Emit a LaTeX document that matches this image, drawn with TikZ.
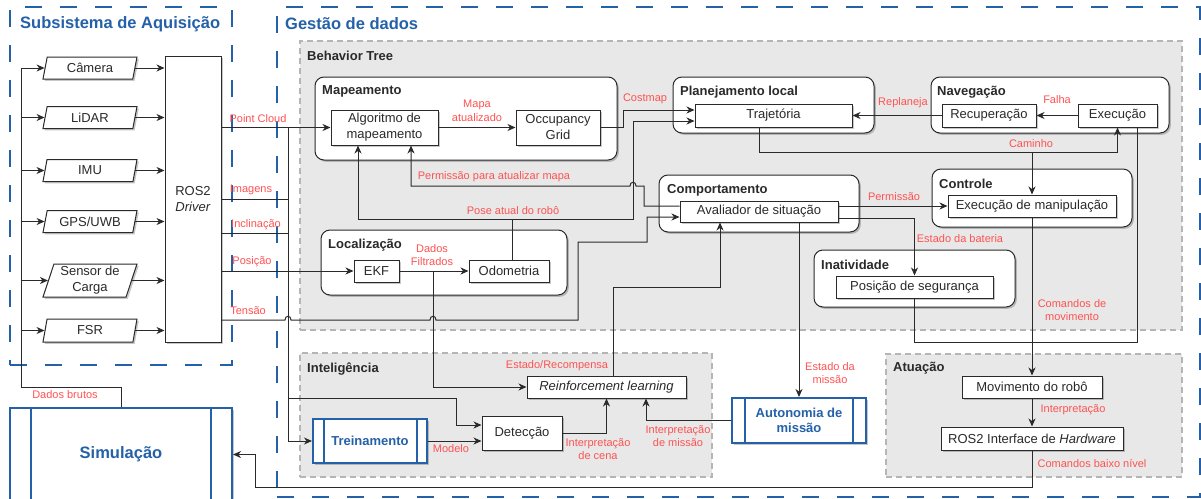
\documentclass[tikz,border=0pt]{standalone}
\usepackage{fontspec}
\setmainfont{Liberation Sans}
\usetikzlibrary{arrows.meta,shapes.geometric,shadows,calc}

\definecolor{lblred}{HTML}{FF5252}
\definecolor{frameblue}{HTML}{2461A8}
\definecolor{areagray}{HTML}{E8E8E8}
\definecolor{areaedge}{HTML}{B5B5B5}
\definecolor{ink}{HTML}{2A2A2A}

\newcommand\dgboxfont{\fontsize{13}{16}\selectfont}
\newcommand\dglblfont{\fontsize{11}{13.5}\selectfont}
\newcommand\dgttlfont{\fontsize{13}{15}\selectfont\bfseries}
\newcommand\dgbigfont{\fontsize{16.5}{19}\selectfont\bfseries}

\tikzset{
  shadowed/.style={drop shadow={shadow xshift=1.8pt,shadow yshift=-1.8pt,opacity=.22,fill=black}},
  box/.style={draw=ink,line width=1pt,fill=white,inner sep=1pt,align=center,
    font=\dgboxfont,text=ink,shadowed},
  sensor/.style={box,trapezium,trapezium left angle=70,trapezium right angle=110,
    trapezium stretches body,minimum width=94pt},
  group/.style={draw=ink,line width=1pt,fill=white,rounded corners=9pt,shadowed},
  area/.style={fill=areagray,draw=areaedge,line width=1.7pt,dash pattern=on 6pt off 4pt},
  frame/.style={draw=frameblue,line width=2.4pt,dash pattern=on 17pt off 18pt},
  proc/.style={draw=frameblue,line width=2pt,fill=white,align=center,text=frameblue,shadowed},
  procline/.style={draw=frameblue,line width=2pt},
  lbl/.style={text=lblred,font=\dglblfont,align=center,inner sep=0pt},
  ttl/.style={font=\dgttlfont,text=ink,anchor=west,inner sep=0pt},
  bigttl/.style={font=\dgbigfont,text=frameblue,anchor=west,inner sep=0pt},
  wire/.style={draw=ink,line width=1pt},
  arr/.style={wire,-{Stealth[length=8pt,width=7pt,inset=2.5pt]}}
}

\begin{document}
\begin{tikzpicture}[x=1pt,y=-1pt]
\clip (0,0) rectangle (1201,498);
\fill[white] (0,0) rectangle (1201,498);

% ---------- outer frames ----------
\node[frame,minimum width=222pt,minimum height=358pt] (acq) at (121,186) {};
\node[frame,minimum width=923pt,minimum height=490pt] (gest) at (738.5,252) {};
\node[bigttl] (acqT) at (20,24) {Subsistema de Aquisição};
\node[bigttl] (gestT) at (285,24) {Gestão de dados};

% ---------- grey areas ----------
\node[area,minimum width=882pt,minimum height=289pt] (bt) at (741,185.5) {};
\node[area,minimum width=412pt,minimum height=124pt] (intel) at (506,415) {};
\node[area,minimum width=296pt,minimum height=123pt] (atua) at (1034,415.5) {};
\node[ttl] (btT) at (307,56) {Behavior Tree};
\node[ttl] (intelT) at (307,369) {Inteligência};
\node[ttl] (atuaT) at (893,368) {Atuação};

% ---------- rounded groups ----------
\node[group,minimum width=302pt,minimum height=83pt] (mapg) at (466,118.5) {};
\node[group,minimum width=201pt,minimum height=56pt] (plang) at (773.5,105) {};
\node[group,minimum width=238pt,minimum height=56pt] (navg) at (1050,105) {};
\node[group,minimum width=200pt,minimum height=57pt] (compg) at (759,203.5) {};
\node[group,minimum width=200pt,minimum height=58pt] (ctrlg) at (1032,198) {};
\node[group,minimum width=246pt,minimum height=65pt] (locg) at (444,262.5) {};
\node[group,minimum width=201pt,minimum height=57pt] (inatg) at (914.5,278.5) {};
\node[ttl] (mapT) at (322,91) {Mapeamento};
\node[ttl] (planT) at (680,92) {Planejamento local};
\node[ttl] (navT) at (937,92) {Navegação};
\node[ttl] (compT) at (667,190) {Comportamento};
\node[ttl] (ctrlT) at (939,184) {Controle};
\node[ttl] (locT) at (328,245) {Localização};
\node[ttl] (inatT) at (821,265) {Inatividade};

% ---------- acquisition ----------
\node[sensor,minimum height=22pt] (cam) at (90,68) {Câmera};
\node[sensor,minimum height=22pt] (lid) at (90,117.5) {LiDAR};
\node[sensor,minimum height=22pt] (imu) at (90,170.5) {IMU};
\node[sensor,minimum height=22pt] (gps) at (90,221.5) {GPS/UWB};
\node[sensor,minimum height=33pt] (carga) at (90,280.5) {Sensor de\\Carga};
\node[sensor,minimum height=23pt] (fsr) at (90,330.5) {FSR};
\node[box,minimum width=56pt,minimum height=286pt] (drv) at (193,199) {ROS2\\\textit{Driver}};

\node[proc,minimum width=222pt,minimum height=93pt,font=\dgbigfont] (sim) at (121,454.5) {Simulação};
\draw[procline] ($(sim.north west)+(22,0)$) -- ($(sim.south west)+(22,0)$);
\draw[procline] ($(sim.north east)+(-22,0)$) -- ($(sim.south east)+(-22,0)$);

% ---------- behaviour tree boxes ----------
\node[box,minimum width=107pt,minimum height=35pt] (alg) at (384.5,127.5) {Algoritmo de\\mapeamento};
\node[box,minimum width=84pt,minimum height=35pt] (occ) at (558,127.5) {Occupancy\\Grid};
\node[box,minimum width=157pt,minimum height=23pt] (traj) at (773.5,115.5) {Trajetória};
\node[box,minimum width=94pt,minimum height=23pt] (rec) at (989,115.5) {Recuperação};
\node[box,minimum width=79pt,minimum height=23pt] (exe) at (1117.5,115.5) {Execução};
\node[box,minimum width=158pt,minimum height=21pt] (aval) at (759,211.5) {Avaliador de situação};
\node[box,minimum width=168pt,minimum height=22pt] (manip) at (1032,206) {Execução de manipulação};
\node[box,minimum width=45pt,minimum height=22pt] (ekf) at (376.5,271) {EKF};
\node[box,minimum width=80pt,minimum height=22pt] (odo) at (509,271) {Odometria};
\node[box,minimum width=157pt,minimum height=22pt] (pos) at (914.5,287) {Posição de segurança};

% ---------- intelligence ----------
\node[box,minimum width=159pt,minimum height=22pt] (rl) at (606.5,387) {\textit{Reinforcement learning}};
\node[box,minimum width=80pt,minimum height=34pt] (det) at (522,433) {Detecção};
\node[proc,minimum width=114pt,minimum height=44pt,font=\dgttlfont] (trein) at (370,441) {Treinamento};
\draw[procline] ($(trein.north west)+(12,0)$) -- ($(trein.south west)+(12,0)$);
\draw[procline] ($(trein.north east)+(-11,0)$) -- ($(trein.south east)+(-11,0)$);
\node[proc,minimum width=134pt,minimum height=45pt,font=\dgttlfont] (aut) at (799,420.5) {Autonomia de\\missão};
\draw[procline] ($(aut.north west)+(14,0)$) -- ($(aut.south west)+(14,0)$);
\draw[procline] ($(aut.north east)+(-14,0)$) -- ($(aut.south east)+(-14,0)$);

% ---------- actuation ----------
\node[box,minimum width=140pt,minimum height=22pt] (mov) at (1032,387) {Movimento do robô};
\node[box,minimum width=182pt,minimum height=23pt] (hw) at (1032,438.5) {ROS2 Interface de \textit{Hardware}};

% ---------- raw data bus ----------
\coordinate (dbL) at (21,387);
\draw[wire] (sim.north) |- (dbL) -- (dbL |- cam.west);
\foreach \s in {cam,lid,imu,gps,carga,fsr}{
  \draw[arr] (dbL |- \s.west) -- (\s.west);
  \draw[arr] (\s.east) -- (\s.east -| drv.west);
}

% ---------- driver outputs ----------
\coordinate (busTop) at (288,127.5);
\draw[arr] (drv.east |- alg.west) -- (alg.west);
\draw[arr] (busTop) |- (trein.west);
\draw[wire] (drv.east |- 0,199) -- (busTop |- 0,199);
\draw[wire] (drv.east |- 0,233) -- (busTop |- 0,233);
\draw[arr] (busTop |- 0,398) -| (456,425) -- ($(det.west)+(0,-8)$);
\draw[arr] (drv.east |- ekf.west) -- (ekf.west);
\draw[arr] (drv.east |- 0,320) -- (285,320) .. controls (285,315) and (291,315) .. (291,320)
  -- (430,320) .. controls (430,315) and (436,315) .. (436,320)
  -- (578,320) -- (578,242) -- (647,242) -- (647,217) -- ($(aval.west)+(0,5.5)$);

% ---------- localisation and mapping ----------
\draw[arr] (ekf.east) -- (odo.west);
\draw[arr] (433,271) |- (rl.west);
\draw[arr] (alg.east) -- (occ.west);
\draw[arr] (occ.east) -- (623,127.5) |- ($(traj.west)+(0,-5.5)$);
\coordinate (poseJ) at (512,219);
\draw[wire] ($(odo.north)+(3,0)$) -- (poseJ);
\draw[arr] (poseJ) -| ($(alg.south)+(-26.5,0)$);
\draw[arr] (poseJ) -- (633,219) |- ($(traj.west)+(0,5.5)$);
\draw[arr] ($(aval.west)+(0,-5.5)$) -- (644,206) -- (644,186) -- (636,186)
  .. controls (636,181) and (630,181) .. (630,186) -- (411,186) -- ($(alg.south)+(26.5,0)$);

% ---------- behaviour ----------
\draw[arr] ($(rl.north)+(6.5,0)$) -- (613,287) -| ($(aval.south)+(-39,0)$);
\draw[arr] (aut.north |- aval.south) -- (aut.north);
\draw[arr] (aval.east |- manip.west) -- (manip.west);
\draw[arr] ($(aval.east)+(0,6.5)$) -| (pos.north);

% ---------- navigation ----------
\draw[arr] (rec.west) -- (traj.east);
\draw[arr] (exe.west) -- (rec.east);
\coordinate (camR) at (exe.south |- 0,152);
\draw[arr] ($(traj.south)+(-14.5,0)$) |- (camR) -- (exe.south);
\draw[arr] (manip.north |- camR) -- (manip.north);

% ---------- motion commands ----------
\coordinate (cmR) at (1137,342);
\draw[wire] (pos.south) |- (cmR) -- ($(exe.south)+(19.5,0)$);
\draw[arr] (manip.south) -- (mov.north);
\draw[arr] (mov.south) -- (hw.north);
\draw[arr] (hw.south) -- (hw.south |- 0,487) -- (255,487) |- (sim.east);

% ---------- intelligence links ----------
\draw[arr] (trein.east) -- (trein.east -| det.west);
\draw[arr] (det.east) -| (rl.south);
\draw[arr] (aut.west) -| ($(rl.south)+(39.5,0)$);

% ---------- connector labels ----------
\node[lbl] (lPC) at (258,119) {Point Cloud};
\node[lbl] (lIm) at (251,190) {Imagens};
\node[lbl] (lIn) at (256,225) {Inclinação};
\node[lbl] (lPo) at (252,262) {Posição};
\node[lbl] (lTe) at (248,311) {Tensão};
\node[lbl] (lDb) at (65,395) {Dados brutos};
\node[lbl] (lMa) at (477,111) {Mapa\\atualizado};
\node[lbl] (lCo) at (645,99) {Costmap};
\node[lbl] (lRe) at (903,103) {Replaneja};
\node[lbl] (lFa) at (1057,100) {Falha};
\node[lbl] (lCa) at (1031,144) {Caminho};
\node[lbl] (lPm) at (494,177) {Permissão para atualizar mapa};
\node[lbl] (lPa) at (513,211) {Pose atual do robô};
\node[lbl] (lPe) at (894,197) {Permissão};
\node[lbl] (lEb) at (960,239) {Estado da bateria};
\node[lbl] (lDf) at (432,255) {Dados\\Filtrados};
\node[lbl] (lCm) at (1072,310) {Comandos de\\movimento};
\node[lbl] (lEm) at (830,373) {Estado da\\missão};
\node[lbl] (lEr) at (557,366) {Estado/Recompensa};
\node[lbl] (lIc) at (598,449) {Interpretação\\de cena};
\node[lbl] (lIm2) at (678,436) {Interpretação\\de missão};
\node[lbl] (lMo) at (451,449) {Modelo};
\node[lbl] (lIp) at (1073,410) {Interpretação};
\node[lbl] (lCb) at (1092,463) {Comandos baixo nível};
\end{tikzpicture}
\end{document}
